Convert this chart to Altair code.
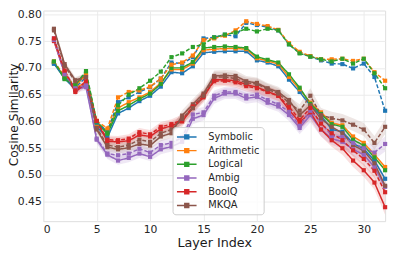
import altair as alt
import pandas as pd

layers = list(range(1, 33))
tasks = ["Symbolic", "Arithmetic", "Logical", "Ambig", "BoolQ", "MKQA"]
colors = ["#1f77b4", "#ff7f0e", "#2ca02c", "#9467bd", "#d62728", "#8c564b"]

# solid lines
symbolic = [0.708, 0.680, 0.660, 0.668, 0.590, 0.570, 0.615, 0.625, 0.638, 0.648, 0.665, 0.692, 0.690, 0.703, 0.728, 0.730,
            0.731, 0.731, 0.731, 0.714, 0.710, 0.703, 0.678, 0.655, 0.630, 0.611, 0.585, 0.581, 0.559, 0.549, 0.527, 0.493]
arithmetic = [0.710, 0.683, 0.663, 0.672, 0.595, 0.583, 0.625, 0.636, 0.645, 0.655, 0.672, 0.697, 0.697, 0.708, 0.733, 0.735,
              0.736, 0.736, 0.735, 0.718, 0.713, 0.707, 0.683, 0.660, 0.635, 0.617, 0.597, 0.593, 0.572, 0.560, 0.538, 0.515]
logical = [0.711, 0.679, 0.666, 0.690, 0.598, 0.577, 0.620, 0.630, 0.642, 0.652, 0.670, 0.700, 0.700, 0.711, 0.737, 0.739,
           0.740, 0.739, 0.737, 0.721, 0.715, 0.710, 0.688, 0.663, 0.633, 0.614, 0.595, 0.590, 0.566, 0.555, 0.533, 0.509]
ambig = [0.755, 0.690, 0.660, 0.664, 0.566, 0.538, 0.527, 0.532, 0.540, 0.534, 0.548, 0.553, 0.562, 0.605, 0.612, 0.643,
         0.652, 0.652, 0.643, 0.646, 0.635, 0.628, 0.612, 0.588, 0.612, 0.585, 0.568, 0.562, 0.548, 0.538, 0.515, 0.478]
boolq = [0.750, 0.692, 0.655, 0.671, 0.600, 0.563, 0.562, 0.564, 0.575, 0.572, 0.586, 0.592, 0.600, 0.625, 0.645, 0.678,
         0.678, 0.676, 0.669, 0.664, 0.656, 0.648, 0.622, 0.598, 0.617, 0.585, 0.565, 0.550, 0.527, 0.509, 0.486, 0.440]
mkqa = [0.773, 0.707, 0.677, 0.684, 0.585, 0.552, 0.548, 0.551, 0.558, 0.555, 0.572, 0.578, 0.611, 0.632, 0.652, 0.685,
        0.686, 0.685, 0.675, 0.672, 0.662, 0.655, 0.640, 0.612, 0.630, 0.605, 0.590, 0.578, 0.556, 0.545, 0.522, 0.480]

# dashed lines
symbolic_d = [0.708, 0.683, 0.663, 0.683, 0.598, 0.582, 0.636, 0.645, 0.655, 0.664, 0.680, 0.710, 0.708, 0.720, 0.755, 0.757,
              0.762, 0.759, 0.784, 0.780, 0.776, 0.770, 0.744, 0.728, 0.721, 0.714, 0.708, 0.707, 0.699, 0.708, 0.683, 0.620]
arithmetic_d = [0.712, 0.685, 0.667, 0.686, 0.601, 0.587, 0.645, 0.655, 0.658, 0.665, 0.680, 0.706, 0.710, 0.723, 0.752, 0.755,
                0.760, 0.770, 0.787, 0.782, 0.778, 0.771, 0.746, 0.730, 0.722, 0.716, 0.716, 0.717, 0.713, 0.717, 0.692, 0.676]
logical_d = [0.712, 0.681, 0.668, 0.694, 0.600, 0.579, 0.630, 0.650, 0.662, 0.676, 0.693, 0.720, 0.727, 0.739, 0.744, 0.757,
             0.762, 0.766, 0.773, 0.768, 0.773, 0.770, 0.744, 0.727, 0.721, 0.716, 0.712, 0.717, 0.708, 0.717, 0.690, 0.662]
ambig_d = [0.752, 0.688, 0.662, 0.668, 0.568, 0.540, 0.537, 0.540, 0.549, 0.542, 0.556, 0.560, 0.570, 0.613, 0.617, 0.648,
           0.655, 0.655, 0.648, 0.650, 0.640, 0.632, 0.618, 0.592, 0.620, 0.598, 0.573, 0.571, 0.560, 0.550, 0.542, 0.558]
boolq_d = [0.755, 0.695, 0.658, 0.675, 0.601, 0.566, 0.565, 0.568, 0.580, 0.576, 0.590, 0.595, 0.603, 0.628, 0.648, 0.675,
           0.676, 0.673, 0.666, 0.662, 0.655, 0.648, 0.628, 0.603, 0.625, 0.596, 0.578, 0.565, 0.546, 0.530, 0.508, 0.468]
mkqa_d = [0.770, 0.703, 0.675, 0.683, 0.588, 0.556, 0.552, 0.556, 0.566, 0.562, 0.578, 0.585, 0.605, 0.625, 0.648, 0.683,
          0.683, 0.680, 0.672, 0.670, 0.660, 0.652, 0.635, 0.620, 0.648, 0.612, 0.606, 0.602, 0.594, 0.585, 0.560, 0.590]

# half width of shaded bands
band_hw = [0.006, 0.006, 0.006, 0.006, 0.007, 0.008, 0.008, 0.008, 0.008, 0.008, 0.009, 0.009, 0.010, 0.010, 0.010, 0.010,
           0.010, 0.010, 0.010, 0.010, 0.010, 0.010, 0.011, 0.012, 0.014, 0.013, 0.012, 0.012, 0.012, 0.012, 0.013, 0.014]

solid = {"Symbolic": symbolic, "Arithmetic": arithmetic, "Logical": logical,
         "Ambig": ambig, "BoolQ": boolq, "MKQA": mkqa}
dashed = {"Symbolic": symbolic_d, "Arithmetic": arithmetic_d, "Logical": logical_d,
          "Ambig": ambig_d, "BoolQ": boolq_d, "MKQA": mkqa_d}
banded = ["Ambig", "BoolQ", "MKQA"]
banded_colors = ["#9467bd", "#d62728", "#8c564b"]

rows, brows = [], []
for variant, series in (("solid", solid), ("dashed", dashed)):
    for t in tasks:
        for l, v, h in zip(layers, series[t], band_hw):
            rows.append({"task": t, "variant": variant, "layer": l, "value": v})
            if t in banded:
                brows.append({"task": t, "key": t + variant, "layer": l, "lo": v - h, "hi": v + h})
df = pd.DataFrame(rows)
bands = pd.DataFrame(brows)

xaxis = alt.Axis(values=[0, 5, 10, 15, 20, 25, 30], title="Layer Index", labelPadding=3,
                 titlePadding=2, labelOverlap=False)
yaxis = alt.Axis(values=[0.45, 0.5, 0.55, 0.6, 0.65, 0.7, 0.75, 0.8], format=".2f",
                 title="Cosine Similarity", labelPadding=2, labelOverlap=False,
                 titleX=-26, titleY=106, titleBaseline="alphabetic", titleFontSize=12.5)
xscale = alt.Scale(domain=[0, 32], nice=False, zero=False)
yscale = alt.Scale(domain=[0.414, 0.807], nice=False, zero=False)
cscale = alt.Scale(domain=tasks, range=colors)
leg = alt.Legend(orient="none", legendX=132, legendY=119, direction="vertical",
                 symbolType="M-2,0L2,0M-0.4,-0.4L0.4,-0.4L0.4,0.4L-0.4,0.4Z", symbolSize=100,
                 symbolStrokeWidth=1.5, symbolOffset=4.5, labelFont="DejaVu Sans", labelFontSize=10,
                 labelColor="#262626", rowPadding=3, padding=4, fillColor="rgba(255,255,255,0.8)",
                 strokeColor="#cccccc", cornerRadius=3, labelOffset=16, title=None)

band = alt.Chart(bands).mark_area(opacity=0.15).encode(
    x=alt.X("layer:Q", scale=xscale, axis=xaxis),
    y=alt.Y("lo:Q", scale=yscale, axis=yaxis), y2="hi:Q",
    fill=alt.Fill("task:N", scale=alt.Scale(domain=banded, range=banded_colors), legend=None),
    detail="key:N")

lines = alt.Chart(df).mark_line(
    strokeWidth=1.5,
    point=alt.OverlayMarkDef(shape="square", filled=True, size=18, opacity=1)
).encode(
    x=alt.X("layer:Q", scale=xscale, axis=xaxis),
    y=alt.Y("value:Q", scale=yscale, axis=yaxis),
    color=alt.Color("task:N", scale=cscale, legend=leg),
    strokeDash=alt.StrokeDash("variant:N", scale=alt.Scale(domain=["solid", "dashed"], range=[[1, 0], [4, 2]]), legend=None))

chart = alt.layer(band, lines).properties(
    width=349, height=215, autosize=alt.AutoSizeParams(type="none"),
    padding={"left": 36, "top": 0, "right": 6, "bottom": 33}
).configure_view(stroke="#dddddd", strokeWidth=1).configure_axis(
    grid=True, gridColor="#ebebeb", domain=False, ticks=False,
    labelFont="DejaVu Sans", labelFontSize=11, labelColor="#262626",
    titleFont="DejaVu Sans", titleFontSize=13, titleFontWeight="normal", titleColor="#1a1a1a")

chart.save("out.html", embed_options={"renderer": "svg", "actions": False})
